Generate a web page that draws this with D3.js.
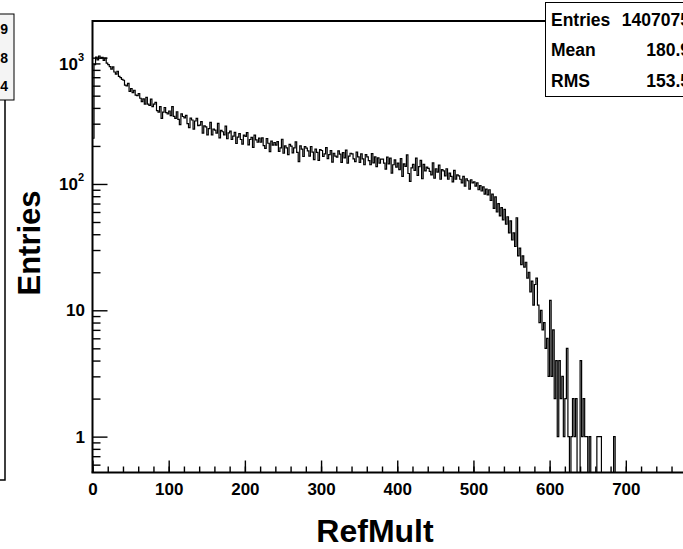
<!DOCTYPE html>
<html>
<head>
<meta charset="utf-8">
<script src="https://cdn.jsdelivr.net/npm/d3@7"></script>
<style>
  body { margin: 0; background: #fff; }
  text { font-family: "Liberation Sans", Arial, sans-serif; font-weight: bold; fill: #000; }
</style>
</head>
<body>
<div class="hist"></div>
<script>
// RefMult histogram, bins of width 2 starting at 0
var binWidth = 2;
var counts = [
  230, 880, 1010, 960, 1030, 990, 1005, 950, 990, 905,
  880, 850, 810, 845, 770, 740, 780, 712, 695, 672,
  662, 605, 598, 625, 540, 570, 528, 552, 505, 500,
  520, 477, 448, 471, 428, 485, 428, 419, 470, 409,
  428, 442, 381, 371, 410, 330, 370, 403, 367, 358,
  378, 347, 410, 343, 330, 373, 324, 295, 359, 342,
  334, 349, 300, 279, 332, 321, 272, 315, 331, 290,
  292, 311, 253, 288, 283, 245, 274, 307, 245, 272,
  267, 253, 302, 232, 266, 259, 245, 287, 228, 254,
  262, 225, 239, 256, 209, 235, 250, 225, 207, 244,
  238, 255, 204, 225, 234, 195, 244, 223, 214, 231,
  214, 232, 201, 191, 229, 210, 180, 218, 203, 213,
  203, 216, 181, 193, 226, 175, 200, 193, 171, 206,
  199, 176, 193, 215, 178, 150, 200, 189, 165, 198,
  192, 183, 166, 198, 179, 156, 189, 178, 154, 187,
  184, 165, 173, 194, 159, 171, 184, 149, 175, 166,
  163, 183, 172, 148, 177, 161, 185, 146, 166, 175,
  173, 158, 150, 179, 164, 148, 173, 158, 142, 171,
  164, 153, 142, 174, 147, 164, 137, 161, 146, 157,
  157, 146, 131, 163, 144, 160, 122, 142, 155, 136,
  146, 130, 159, 115, 144, 138, 170, 121, 105, 134,
  143, 128, 160, 117, 137, 154, 110, 143, 127, 136,
  133, 126, 118, 147, 111, 132, 124, 141, 109, 130,
  127, 116, 132, 109, 122, 115, 104, 128, 109, 118,
  116, 109, 102, 115, 96, 110, 106, 91, 108, 102,
  104, 96, 102, 90, 97, 88, 95, 83, 91, 82,
  90, 74, 83, 64, 79, 60, 70, 56, 65, 52,
  63, 48, 55, 41, 51, 36, 41, 32, 54, 27,
  31, 23, 27, 22, 24, 18, 20, 14, 17, 11,
  16, 18, 11, 8, 10, 7, 8, 5, 6, 3,
  12, 3, 7, 2, 4, 1, 4, 2, 3, 1,
  2, 5, 1, 0, 1, 2, 1, 2, 0, 0,
  4, 1, 2, 1, 1, 0, 1, 0, 0, 0,
  0, 1, 1, 1, 0, 0, 0, 0, 0, 0,
  0, 0, 1, 0
];

// axis ticks
var xMajorTicks = [0, 100, 200, 300, 400, 500, 600, 700, 800];
var xTickLabels = [0, 100, 200, 300, 400, 500, 600, 700];
var xMinorTicks = d3.range(0, 801, 20);
var yMajorTicks = [1, 10, 100, 1000];
var yMinorTicks = [0.6, 0.7, 0.8, 0.9, 2, 3, 4, 5, 6, 7, 8, 9,
  20, 30, 40, 50, 60, 70, 80, 90, 200, 300, 400, 500, 600, 700, 800, 900];
var yLabels = [
  { value: 1000, base: "10", exp: "3" },
  { value: 100, base: "10", exp: "2" },
  { value: 10, base: "10", exp: "" },
  { value: 1, base: "1", exp: "" }
];

// stats box
var statNames = ["Entries", "Mean", "RMS"];
var statValues = ["1407075", "180.9", "153.5"];
// neighbouring pad's stats (only last digits visible)
var leftStatValues = ["9", "8", "4"];

var svgWidth = 683;
var svgHeight = 549;

var frame = { left: 92.5, top: 21, bottom: 472.5, right: 702 };

var svg = d3.select(".hist")
  .append("svg")
  .attr("width", svgWidth)
  .attr("height", svgHeight);

svg.append("rect")
  .attr("width", svgWidth)
  .attr("height", svgHeight)
  .attr("fill", "#fff");

var xScale = d3.scaleLinear()
  .domain([0, 800])
  .range([frame.left, frame.right]);

var yMin = 0.52;
var yScale = d3.scaleLog()
  .domain([yMin, 1950])
  .range([frame.bottom, frame.top]);

// left neighbouring pad: frame edge and clipped stats box
svg.append("path")
  .attr("d", "M5,100 V480 H-5")
  .attr("fill", "none")
  .attr("stroke", "#000")
  .attr("stroke-width", 1.5);

svg.append("rect")
  .attr("x", -60)
  .attr("y", 14)
  .attr("width", 74)
  .attr("height", 86)
  .attr("fill", "#f4f4f4")
  .attr("stroke", "#000")
  .attr("stroke-width", 1);

svg.selectAll(".leftStat")
  .data(leftStatValues)
  .enter().append("text")
  .attr("class", "leftStat")
  .attr("x", 8)
  .attr("y", (d, i) => 34 + i * 28.5)
  .attr("text-anchor", "end")
  .attr("font-size", 14)
  .text(d => d);

// clip for the histogram
svg.append("clipPath")
  .attr("id", "frameClip")
  .append("rect")
  .attr("x", frame.left)
  .attr("y", frame.top)
  .attr("width", frame.right - frame.left)
  .attr("height", frame.bottom - frame.top);

var points = counts.map((c, i) => [i * binWidth, c]);
points.push([counts.length * binWidth, counts[counts.length - 1]]);

var histLine = d3.line()
  .x(d => xScale(d[0]))
  .y(d => yScale(Math.max(d[1], yMin)))
  .curve(d3.curveStepAfter);

svg.append("path")
  .attr("clip-path", "url(#frameClip)")
  .attr("d", histLine(points))
  .attr("fill", "none")
  .attr("stroke", "#000")
  .attr("stroke-width", 1.2);

// ticks point inward like ROOT
svg.append("g")
  .attr("transform", `translate(0, ${frame.bottom})`)
  .call(d3.axisBottom(xScale).tickValues(xMinorTicks).tickSize(-6).tickFormat(""))
  .call(g => g.select(".domain").remove());

svg.append("g")
  .attr("transform", `translate(0, ${frame.bottom})`)
  .call(d3.axisBottom(xScale).tickValues(xMajorTicks).tickSize(-12).tickFormat(""))
  .call(g => g.select(".domain").remove());

svg.append("g")
  .attr("class", "x-axis")
  .attr("transform", `translate(0, ${frame.bottom})`)
  .call(d3.axisBottom(xScale).tickValues(xTickLabels).tickSize(0).tickPadding(10).tickFormat(d3.format("d")))
  .call(g => g.select(".domain").remove())
  .call(g => g.selectAll("text").attr("font-size", 17).attr("font-family", null));

svg.append("g")
  .attr("transform", `translate(${frame.left}, 0)`)
  .call(d3.axisLeft(yScale).tickValues(yMinorTicks).tickSize(-8).tickFormat(""))
  .call(g => g.select(".domain").remove());

svg.append("g")
  .attr("transform", `translate(${frame.left}, 0)`)
  .call(d3.axisLeft(yScale).tickValues(yMajorTicks).tickSize(-15).tickFormat(""))
  .call(g => g.select(".domain").remove());

svg.selectAll("g.tick line")
  .attr("stroke", "#000")
  .attr("stroke-width", 1.4);

// y tick labels with exponents
var yLab = svg.selectAll(".yLabel")
  .data(yLabels)
  .enter().append("text")
  .attr("class", "yLabel")
  .attr("text-anchor", "end")
  .attr("x", d => d.exp ? 84 : 85)
  .attr("y", d => yScale(d.value) + (d.value === 1000 ? 12 : 6))
  .attr("font-size", 17);

yLab.append("tspan").text(d => d.base);
yLab.append("tspan")
  .attr("dy", -9)
  .attr("font-size", 11)
  .text(d => d.exp);

// frame lines
svg.append("path")
  .attr("d", `M${frame.left},${frame.bottom} V${frame.top} H${frame.right}`)
  .attr("fill", "none")
  .attr("stroke", "#000")
  .attr("stroke-width", 2);

svg.append("line")
  .attr("x1", frame.left - 1)
  .attr("x2", frame.right)
  .attr("y1", frame.bottom)
  .attr("y2", frame.bottom)
  .attr("stroke", "#000")
  .attr("stroke-width", 2.2);

// axis titles
svg.append("text")
  .attr("x", 375)
  .attr("y", 542)
  .attr("text-anchor", "middle")
  .attr("font-size", 32)
  .text("RefMult");

svg.append("text")
  .attr("transform", "translate(40, 243) rotate(-90)")
  .attr("text-anchor", "middle")
  .attr("font-size", 31)
  .text("Entries");

// stats box
svg.append("rect")
  .attr("x", 545.5)
  .attr("y", 2.5)
  .attr("width", 200)
  .attr("height", 94)
  .attr("fill", "#fff")
  .attr("stroke", "#000")
  .attr("stroke-width", 1);

svg.selectAll(".statName")
  .data(statNames)
  .enter().append("text")
  .attr("class", "statName")
  .attr("x", 551)
  .attr("y", (d, i) => 25.5 + i * 30.5)
  .attr("font-size", 17.5)
  .text(d => d);

svg.selectAll(".statValue")
  .data(statValues)
  .enter().append("text")
  .attr("class", "statValue")
  .attr("x", 690)
  .attr("y", (d, i) => 25.5 + i * 30.5)
  .attr("text-anchor", "end")
  .attr("font-size", 17.5)
  .text(d => d);
</script>
</body>
</html>
